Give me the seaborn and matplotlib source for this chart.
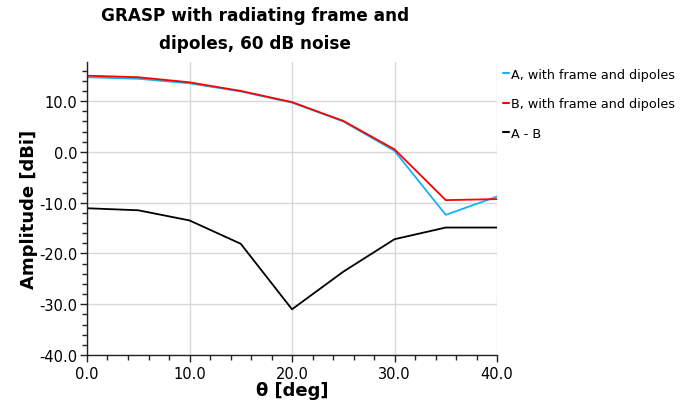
import matplotlib
matplotlib.use("Agg")
import matplotlib.pyplot as plt
import seaborn as sns
import pandas as pd
from matplotlib.ticker import MultipleLocator, FormatStrFormatter
from matplotlib.lines import Line2D

theta = [0, 5, 10, 15, 20, 25, 30, 35, 40]
a_vals = [14.7, 14.4, 13.5, 11.9, 9.7, 6.0, 0.2, -12.4, -8.8]
b_vals = [15.0, 14.7, 13.7, 12.0, 9.8, 6.1, 0.5, -9.5, -9.3]
diff_vals = [-11.1, -11.5, -13.5, -18.1, -31.0, -23.6, -17.2, -14.9, -14.9]
series_names = ["A, with frame and dipoles", "B, with frame and dipoles", "A - B"]
colors = ["#1ab0f0", "#ff0000", "#000000"]

df = pd.concat([
    pd.DataFrame({"theta": theta, "amp": a_vals, "series": series_names[0]}),
    pd.DataFrame({"theta": theta, "amp": b_vals, "series": series_names[1]}),
    pd.DataFrame({"theta": theta, "amp": diff_vals, "series": series_names[2]}),
])

sns.set_style("white")
plt.rcParams["font.family"] = ["DejaVu Sans"]
plt.rcParams["text.color"] = "black"
plt.rcParams["axes.labelcolor"] = "black"
plt.rcParams["xtick.color"] = "black"
plt.rcParams["ytick.color"] = "black"

fig = plt.figure(figsize=(6.95, 4.1), dpi=100)
ax = fig.add_axes([87/695, 1-356/410, (497-87)/695, (356-63)/410])

sns.lineplot(data=df, x="theta", y="amp", hue="series", palette=colors,
             hue_order=series_names, ax=ax, linewidth=1.3, legend=False, sort=False)

ax.set_xlim(0, 40)
ax.set_ylim(-40, 17.7)
ax.xaxis.set_major_locator(MultipleLocator(10))
ax.xaxis.set_minor_locator(MultipleLocator(2))
ax.yaxis.set_major_locator(MultipleLocator(10))
ax.yaxis.set_minor_locator(MultipleLocator(2))
ax.xaxis.set_major_formatter(FormatStrFormatter("%.1f"))
ax.yaxis.set_major_formatter(FormatStrFormatter("%.1f"))
ax.grid(True, which="major", color="#d8d8d8", linewidth=1.0)
ax.set_axisbelow(True)
for s in ["top", "right"]:
    ax.spines[s].set_visible(False)
for s in ["left", "bottom"]:
    ax.spines[s].set_color("#222222")
    ax.spines[s].set_linewidth(1.0)
ax.tick_params(which="both", bottom=True, left=True, top=False, right=False)
ax.tick_params(which="major", direction="out", length=5, width=1, color="#222222",
               labelsize=10.5, pad=2, labelcolor="black")
ax.tick_params(which="minor", direction="out", length=3.5, width=1, color="#222222")
ax.tick_params(axis="x", which="major", pad=3)

ax.set_xlabel("θ [deg]", fontsize=13, fontweight="bold", labelpad=0, color="black")
ax.set_ylabel("Amplitude [dBi]", fontsize=13, fontweight="bold", labelpad=1, color="black")

fig.text(255/695, 1-7/410, "GRASP with radiating frame and\ndipoles, 60 dB noise",
         ha="center", va="top", fontsize=12.2, fontweight="bold", linespacing=1.7,
         color="black")

handles = [Line2D([0], [0], color=c, linewidth=1.5) for c in colors]
leg = fig.legend(handles, series_names, loc="upper left",
                 bbox_to_anchor=(491/695, 1-57/410), frameon=False,
                 handlelength=0.5, handletextpad=0.2, labelspacing=1.3,
                 prop={"family": "DejaVu Sans", "size": 9.2})
for t in leg.get_texts():
    t.set_color("black")

fig.savefig("out.png", dpi=100)
